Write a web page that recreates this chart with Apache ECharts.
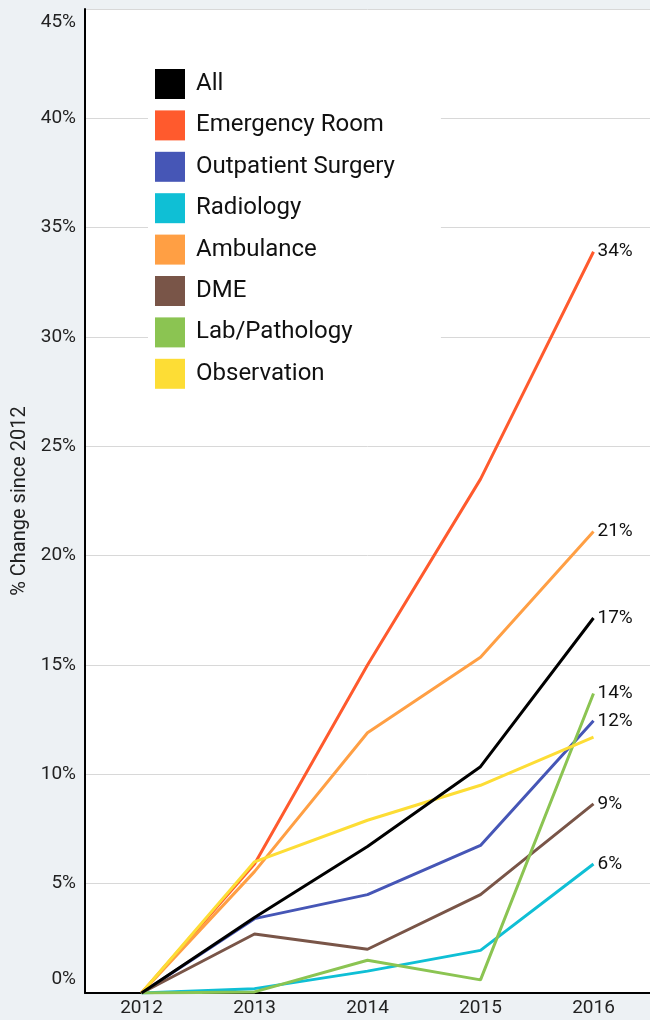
<!DOCTYPE html>
<html>
<head>
<meta charset="utf-8">
<script src="https://cdn.jsdelivr.net/npm/echarts@6/dist/echarts.min.js"></script>
<style>
html,body{margin:0;padding:0;background:#edf1f4;}
#c{width:650px;height:1020px;}
</style>
</head>
<body>
<div id="c"></div>
<script>
const years = ['2012', '2013', '2014', '2015', '2016'];
const seriesNames = ['All', 'Emergency Room', 'Outpatient Surgery', 'Radiology', 'Ambulance', 'DME', 'Lab/Pathology', 'Observation'];
const allVals        = [0, 3.45, 6.7, 10.35, 17.15];
const erVals         = [0, 5.9, 15.0, 23.5, 33.9];
const outpatientVals = [0, 3.4, 4.5, 6.75, 12.45];
const radiologyVals  = [0, 0.2, 1.0, 1.95, 5.9];
const ambulanceVals  = [0, 5.55, 11.9, 15.35, 21.1];
const dmeVals        = [0, 2.7, 2.0, 4.5, 8.65];
const labVals        = [0, 0.05, 1.5, 0.6, 13.7];
const observationVals= [0, 6.0, 7.9, 9.5, 11.7];
const colors = ['#000000', '#ff5a2d', '#4656b6', '#0fbfd5', '#ff9f44', '#795548', '#8bc452', '#fddd35'];
const showEndLabel = [true, true, true, true, true, true, true, false];
const yTicks = { min: 0, max: 45, interval: 5 };

const valueSets = [allVals, erVals, outpatientVals, radiologyVals, ambulanceVals, dmeVals, labVals, observationVals];
const FONT = 'Roboto, "Noto Sans", sans-serif';

const chart = echarts.init(document.getElementById('c'), null, { renderer: 'canvas' });
const series = seriesNames.map((name, i) => ({
  name: name,
  type: 'line',
  data: valueSets[i],
  symbol: 'none',
  color: colors[i],
  lineStyle: { width: 3, color: colors[i] },
  z: i === 0 ? 5 : 2,
  endLabel: {
    show: showEndLabel[i],
    distance: 4,
    fontFamily: FONT,
    fontSize: 19,
    color: '#111',
    formatter: p => Math.round(p.value) + '%'
  }
}));

chart.setOption({
  animation: false,
  backgroundColor: '#edf1f4',
  grid: {
    left: 85, right: 0, top: 9, bottom: 27,
    outerBoundsMode: 'none',
    containLabel: false,
    show: true, backgroundColor: '#ffffff', borderWidth: 0
  },
  legend: {
    orient: 'vertical',
    left: 148, top: 51,
    padding: [18, 46, 18, 7],
    backgroundColor: '#ffffff',
    icon: 'rect',
    itemWidth: 30, itemHeight: 30, itemGap: 11.4,
    textStyle: { fontFamily: FONT, fontSize: 24, color: '#111', padding: [0, 0, 0, 6] },
    data: seriesNames
  },
  xAxis: {
    type: 'category',
    data: years,
    boundaryGap: true,
    axisLine: { lineStyle: { color: '#000', width: 2 } },
    axisTick: { show: false },
    axisLabel: { fontFamily: FONT, fontSize: 19, color: '#222', margin: 6 },
    splitLine: { show: false }
  },
  yAxis: {
    type: 'value',
    min: yTicks.min, max: yTicks.max, interval: yTicks.interval,
    name: '% Change since 2012',
    nameLocation: 'middle',
    nameGap: 51,
    nameTextStyle: { fontFamily: FONT, fontSize: 20, color: '#222' },
    axisLine: { show: true, lineStyle: { color: '#000', width: 2 } },
    axisTick: { show: false },
    splitLine: { lineStyle: { color: '#d8d8d8', width: 1 } },
    axisLabel: {
      fontFamily: FONT, fontSize: 19, color: '#222', margin: 9,
      formatter: v => v === yTicks.max ? '{top|' + v + '%}' : (v === yTicks.min ? '{bot|' + v + '%}' : '{n|' + v + '%}'),
      rich: {
        n: { fontFamily: FONT, fontSize: 19, color: '#222' },
        top: { fontFamily: FONT, fontSize: 19, color: '#222', padding: [27, 0, 0, 0] },
        bot: { fontFamily: FONT, fontSize: 19, color: '#222', padding: [0, 0, 27, 0] }
      }
    }
  },
  series: series
});
</script>
</body>
</html>
